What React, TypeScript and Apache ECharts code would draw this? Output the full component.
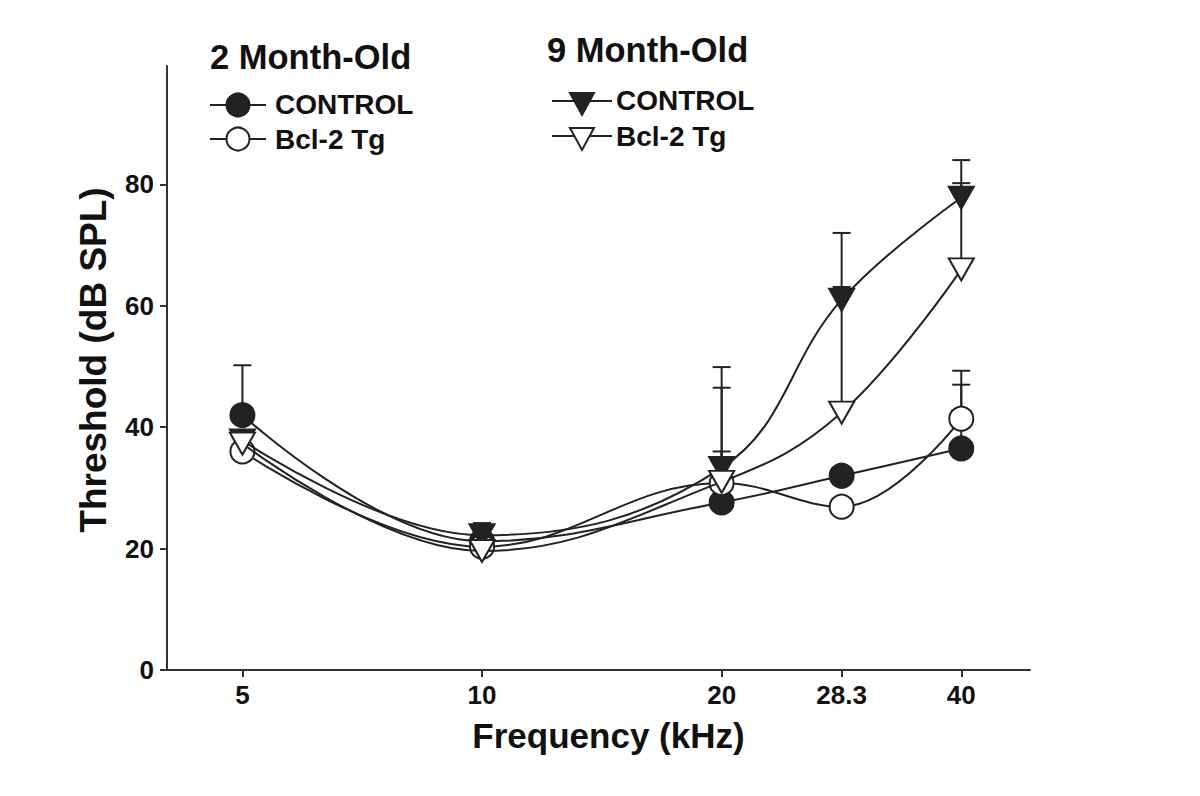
import React, { useEffect, useRef } from "react";
import * as echarts from "echarts";

const freqs = [5, 10, 20, 28.3, 40];
const tickLabels = ["5", "10", "20", "28.3", "40"];
const yTicks = [0, 20, 40, 60, 80];

const ctrl2M = [42.0, 21.2, 27.6, 32.0, 36.5];
const ctrl2MSd = [8.2, 0, 8.4, 0, 10.5];
const bcl2M = [36.0, 20.3, 30.8, 26.9, 41.4];
const bcl2MSd = [0, 0, 0, 0, 7.9];
const ctrl9M = [37.8, 22.2, 33.3, 61.0, 77.8];
const ctrl9MSd = [1.0, 2.0, 16.6, 11.0, 6.2];
const bcl9M = [37.3, 19.6, 31.0, 42.4, 66.0];
const bcl9MSd = [0, 0, 15.5, 20.7, 14.2];

const INK = "#222";
const FONT = "'Liberation Sans', Arial, sans-serif";

function pts(vals: number[]) {
  return freqs.map((f, i) => [f, vals[i]]);
}
function errPts(vals: number[], sd: number[]) {
  return freqs
    .map((f, i) => [f, vals[i], vals[i] + sd[i], sd[i]])
    .filter((d) => d[3] > 0);
}

export default function App() {
  const ref = useRef<HTMLDivElement>(null);
  useEffect(() => {
    if (!ref.current) return;
    const chart = echarts.init(ref.current, undefined, { renderer: "svg" });

    const errSeries = (name: string, vals: number[], sd: number[]) => ({
      type: "custom",
      name: name + "-err",
      z: 1,
      silent: true,
      data: errPts(vals, sd),
      renderItem: (params: any, api: any) => {
        const x = api.value(0);
        const base = api.coord([x, api.value(1)]);
        const top = api.coord([x, api.value(2)]);
        const hw = 9;
        return {
          type: "group",
          children: [
            { type: "line", shape: { x1: base[0], y1: base[1], x2: top[0], y2: top[1] }, style: { stroke: INK, lineWidth: 2 } },
            { type: "line", shape: { x1: top[0] - hw, y1: top[1], x2: top[0] + hw, y2: top[1] }, style: { stroke: INK, lineWidth: 2 } },
          ],
        };
      },
    });

    const lineSeries = (name: string, vals: number[], symbol: string, filled: boolean, z: number) => ({
      type: "line",
      name,
      data: pts(vals),
      smooth: 0.4,
      z,
      symbol,
      symbolSize: symbol === "circle" ? 24 : [25, 22],
      symbolRotate: symbol === "triangle" ? 180 : 0,
      lineStyle: { color: INK, width: 2 },
      itemStyle: { color: filled ? INK : "#fff", borderColor: INK, borderWidth: 2, opacity: 1 },
    });

    const tri = (cx: number, cy: number, filled: boolean) => ({
      type: "polygon",
      shape: { points: [[cx - 12, cy - 10], [cx + 12, cy - 10], [cx, cy + 12]] },
      style: { fill: filled ? INK : "#fff", stroke: INK, lineWidth: 2 },
      z: 10,
    });
    const circ = (cx: number, cy: number, filled: boolean) => ({
      type: "circle",
      shape: { cx, cy, r: 11.5 },
      style: { fill: filled ? INK : "#fff", stroke: INK, lineWidth: 2 },
      z: 10,
    });
    const seg = (x1: number, x2: number, y: number) => ({
      type: "line",
      shape: { x1, y1: y, x2, y2: y },
      style: { stroke: INK, lineWidth: 2 },
      z: 9,
    });
    const txt = (x: number, y: number, text: string, size: number) => ({
      type: "text",
      x,
      y,
      style: { text, fontSize: size, fontWeight: "bold", fontFamily: FONT, fill: "#111", textVerticalAlign: "middle", textAlign: "left" },
      z: 10,
    });

    chart.setOption({
      animation: false,
      grid: { left: 167, right: 170, top: 66, bottom: 126, containLabel: false },
      xAxis: {
        type: "log",
        logBase: 2,
        min: 4.02,
        max: 48.8,
        splitLine: { show: false },
        axisLine: { lineStyle: { color: "#333", width: 2 } },
        axisTick: { customValues: freqs, length: 7, inside: false, lineStyle: { color: "#333", width: 2 } },
        axisLabel: {
          customValues: freqs,
          formatter: (v: number) => {
            const i = freqs.findIndex((f) => Math.abs(f - v) < 0.01);
            return i >= 0 ? tickLabels[i] : "";
          },
          fontSize: 26,
          fontWeight: "bold",
          fontFamily: FONT,
          color: "#111",
          margin: 12,
        },
        minorTick: { show: false },
        name: "Frequency (kHz)",
        nameLocation: "middle",
        nameGap: 48,
        nameTextStyle: { fontSize: 35, fontWeight: "bold", fontFamily: FONT, color: "#111", padding: [0, 0, 0, 20] },
      },
      yAxis: {
        type: "value",
        min: 0,
        max: 99.5,
        splitLine: { show: false },
        axisLine: { show: true, lineStyle: { color: "#333", width: 2 } },
        axisTick: { show: true, customValues: yTicks, length: 7, lineStyle: { color: "#333", width: 2 } },
        axisLabel: {
          customValues: yTicks,
          fontSize: 26,
          fontWeight: "bold",
          fontFamily: FONT,
          color: "#111",
          margin: 13,
        },
        name: "Threshold (dB SPL)",
        nameLocation: "middle",
        nameGap: 55,
        nameTextStyle: { fontSize: 37, fontWeight: "bold", fontFamily: FONT, color: "#111", padding: [0, 0, 0, 16] },
      },
      series: [
        errSeries("ctrl2M", ctrl2M, ctrl2MSd),
        errSeries("bcl2M", bcl2M, bcl2MSd),
        errSeries("ctrl9M", ctrl9M, ctrl9MSd),
        errSeries("bcl9M", bcl9M, bcl9MSd),
        lineSeries("2M CONTROL", ctrl2M, "circle", true, 2),
        lineSeries("2M Bcl-2 Tg", bcl2M, "circle", false, 3),
        lineSeries("9M CONTROL", ctrl9M, "triangle", true, 4),
        lineSeries("9M Bcl-2 Tg", bcl9M, "triangle", false, 5),
      ],
      graphic: [
        txt(210, 57, "2 Month-Old", 34.5),
        seg(210, 266, 105),
        circ(238, 105, true),
        txt(275, 104, "CONTROL", 28),
        seg(210, 266, 139),
        circ(238, 139, false),
        txt(275, 139, "Bcl-2 Tg", 28),
        txt(547, 50, "9 Month-Old", 34.5),
        seg(552, 612, 101),
        tri(582, 103, true),
        txt(616, 100, "CONTROL", 28),
        seg(552, 612, 136),
        tri(582, 138, false),
        txt(616, 136, "Bcl-2 Tg", 28),
      ],
    });
    return () => chart.dispose();
  }, []);
  return <div ref={ref} style={{ width: 1200, height: 796, margin: -8 }} />;
}
